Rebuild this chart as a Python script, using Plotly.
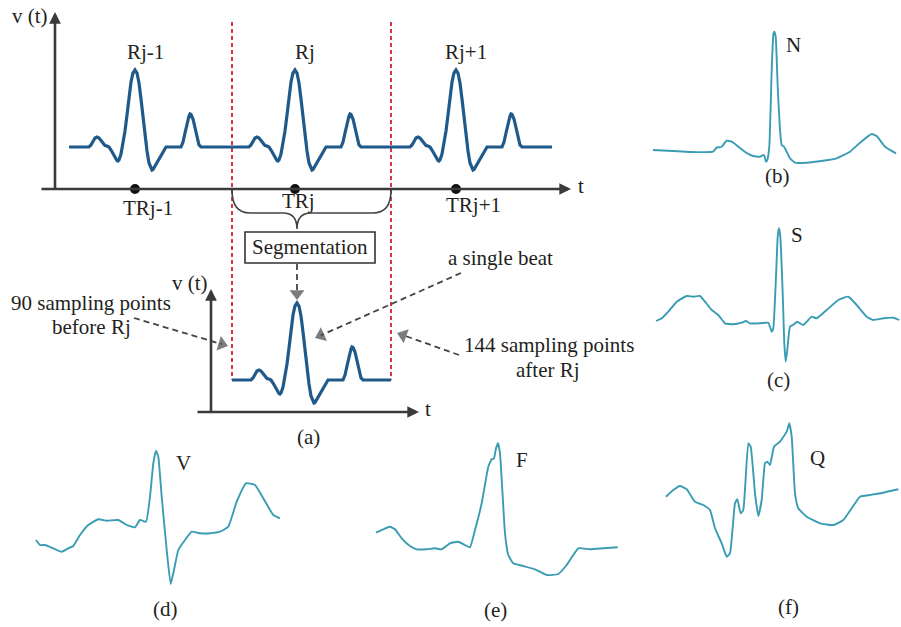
import math
import plotly.graph_objects as go

# ---------------------------------------------------------------
# Schematic heartbeat template: offsets from the R peak
# (dx along time, dy above the isoelectric baseline)
# ---------------------------------------------------------------
BEAT_DX = [-46, -44, -42, -40, -38, -36, -34, -32, -30, -28, -26, -24, -22, -20, -18, -17,
           -16, -14, -12, -10, -8, -6, -4, -2, 0, 2, 4, 6, 8, 10, 12, 14, 16, 17, 18, 20,
           24, 28, 31, 46, 48, 50, 52, 54, 55, 56, 58, 60, 62, 64, 66]
BEAT_DY = [0, 2, 6, 9, 10, 9, 6.5, 3.5, 1.5, 1, 0, -3, -7, -11, -13.5, -14,
           -13, -7, 3, 16, 32, 50, 65, 74, 77, 74, 64, 48, 30, 12, -4, -16, -22, -23, -22.5, -19,
           -12, -5, 0, 0, 5, 14, 24, 31, 33, 32.5, 28, 18, 8, 2, 0]

R_TIMES = [135, 295, 456]
R_LABELS = ["Rj-1", "Rj", "Rj+1"]
TR_LABELS = ["TRj-1", "TRj", "TRj+1"]
STRIP_START, STRIP_END = 69, 552
BASE_TOP = 147
SEG_R = 297
BASE_SEG = 380
SEG_LEFT, SEG_RIGHT = 232, 391

# ---------------------------------------------------------------
# Recorded beat classes
# ---------------------------------------------------------------
N_X = [653, 673, 690, 713, 716.7, 721.7, 726.7, 731.7, 740, 746.7, 753, 760, 764, 766,
       767.3, 769.3, 771.7, 773.3, 774.3, 775.7, 777.7, 780, 781.7, 784, 786.7, 790, 795,
       806.7, 823, 836.7, 850, 860, 871.7, 876.7, 885, 896]
N_Y = [150, 151, 152, 151.7, 147.7, 146.7, 140.7, 141.7, 148, 153, 156, 156.7, 155, 161.7,
       160, 146.7, 70, 35, 31.7, 36.7, 86.7, 130, 145, 146.7, 151.7, 158.3, 162.7,
       162.7, 160.7, 158.3, 151.7, 142.7, 134, 136, 146.7, 153.3]

S_X = [656, 661.7, 668.3, 676.7, 686.7, 693.3, 700, 705, 711.7, 718.3, 725, 733.3, 741.7,
       746, 750, 760, 768.3, 771.7, 773.3, 776, 777.7, 779, 780.3, 782.7, 784.3, 785.7,
       787.3, 790, 794, 797.3, 803.3, 811.7, 816.7, 826.7, 838.3, 848.3, 856.7, 866.7,
       873.3, 883.3, 893.3, 899.3]
S_Y = [321, 318.3, 311.7, 301.7, 296, 296.7, 296, 301.7, 310, 315, 323.3, 324.3, 322.7,
       321, 323.3, 323.3, 322.7, 331.7, 328.3, 276.7, 236.7, 228.3, 236.7, 293.3, 343.3,
       361.7, 350, 326.7, 324.3, 321.7, 325, 316.7, 318.3, 310, 300, 296.7, 305, 316.7,
       320, 318.3, 317.7, 320]

V_X = [36, 40, 45, 53.3, 61.7, 68.3, 73.3, 80, 88.3, 98.3, 106.7, 118.3, 126.7, 135, 140,
       146, 150, 153.3, 156, 158.3, 161.7, 166.7, 170.7, 174, 178.3, 185, 191.7, 200, 210,
       220, 228.3, 236.7, 246, 255, 263.3, 273.3, 280]
V_Y = [540, 545, 545, 548.3, 551.7, 548.3, 546, 535, 525, 519.3, 520.7, 520, 525, 527.3,
       520, 521.7, 496.7, 463.3, 450.7, 456.7, 496.7, 550, 584, 570, 550, 540, 531.7,
       533.3, 533.3, 531.7, 526.7, 501.7, 483.3, 485, 498.3, 515, 518.3]

F_X = [376, 383.3, 390, 395, 401.7, 410, 416.7, 426.7, 435, 441.7, 450, 458.3, 465, 470,
       475, 481.7, 488.3, 491.7, 494, 496, 498, 500, 502.7, 505, 508.3, 513.3, 523.3, 535,
       546.7, 558.3, 566.7, 578.3, 590, 603.3, 617.7]
F_Y = [532.7, 529.3, 526.7, 529.3, 538.3, 546, 549.3, 549.3, 548.3, 549.3, 543.3, 541.7,
       545, 547.3, 530, 503.3, 466.7, 459.3, 458.3, 448.3, 443.3, 453.3, 496.7, 533.3,
       555, 563.3, 566, 569.3, 575, 574, 565, 548.3, 549.3, 548.3, 547.3]

Q_X = [666, 673.3, 680, 686.7, 695, 703.3, 710, 715, 721.7, 726.7, 730, 735, 737.3, 740.7,
       743.3, 748.3, 750.7, 755, 758.3, 761.7, 765, 767.3, 770, 774, 780, 786.7, 789.3,
       791.7, 795, 798.3, 806.7, 820, 833.3, 843.3, 851.7, 860, 870, 883.3, 898.3]
Q_Y = [496.7, 490, 486, 489.3, 501.7, 505, 510, 528.3, 543.3, 556.7, 553.3, 503.3, 499.3,
       513.3, 510, 443.3, 446.7, 493.3, 516, 500, 463.3, 461.7, 465, 446.7, 441.7, 431.7,
       423.3, 436.7, 493.3, 508.3, 516.7, 523.3, 525, 520, 508.3, 496.7, 495, 492.7, 489.3]

CLASS_TRACES = [(N_X, N_Y), (S_X, S_Y), (V_X, V_Y), (F_X, F_Y), (Q_X, Q_Y)]

SERIF = "Liberation Serif"
TXT = "#231f20"
AXIS = "#3a3a3a"
BEAT_BLUE = "#1f5a8a"
TEAL = "#3a9cb3"
RED = "#d8344c"
GREY = "#444444"

fig = go.Figure()

# ---- continuous strip with three beats ----
sx, sy = [STRIP_START], [BASE_TOP]
for r in R_TIMES:
    sx += [r + d for d in BEAT_DX]
    sy += [BASE_TOP - d for d in BEAT_DY]
sx.append(STRIP_END)
sy.append(BASE_TOP)
fig.add_trace(go.Scatter(x=sx, y=sy, mode="lines",
                         line=dict(color=BEAT_BLUE, width=3.2),
                         hoverinfo="skip"))

# ---- segmented single beat ----
bx = [SEG_LEFT] + [SEG_R + d for d in BEAT_DX] + [SEG_RIGHT]
by = [BASE_SEG] + [BASE_SEG - d for d in BEAT_DY] + [BASE_SEG]
fig.add_trace(go.Scatter(x=bx, y=by, mode="lines",
                         line=dict(color=BEAT_BLUE, width=3.2),
                         hoverinfo="skip"))

# ---- R-peak time markers on the time axis ----
fig.add_trace(go.Scatter(x=R_TIMES, y=[189] * len(R_TIMES), mode="markers",
                         marker=dict(color="#111111", size=10), hoverinfo="skip"))

# ---- beat-class recordings ----
for cx, cy in CLASS_TRACES:
    fig.add_trace(go.Scatter(x=cx, y=cy, mode="lines",
                             line=dict(color=TEAL, width=1.9, shape="spline", smoothing=0.4),
                             hoverinfo="skip"))

shapes = []
annotations = []

# red dashed segmentation window
for xv in (SEG_LEFT, SEG_RIGHT):
    shapes.append(dict(type="line", x0=xv, x1=xv, y0=22, y1=BASE_SEG,
                       line=dict(color=RED, width=2, dash="4px,3px"), layer="below"))

# curly brace under the time axis
shapes.append(dict(type="path",
                   path=("M 232,190 Q 232,213 250,213 L 283,213 Q 297,213 297,229 "
                         "Q 297,213 311,213 L 373,213 Q 391,213 391,190"),
                   line=dict(color=GREY, width=1.6)))

# Segmentation box
shapes.append(dict(type="rect", x0=245, x1=375, y0=232, y1=263,
                   line=dict(color="#333333", width=1.6), fillcolor="white"))


def solid_arrow(x0, y0, x1, y1, width=2.6, size=0.9):
    annotations.append(dict(x=x1, y=y1, ax=x0, ay=y0, xref="x", yref="y",
                            axref="x", ayref="y", text="", showarrow=True,
                            arrowhead=2, arrowsize=size, arrowwidth=width,
                            arrowcolor=AXIS, standoff=0))


def dashed_arrow(x0, y0, x1, y1, head=13):
    # dashed shaft ending under a triangular head whose tip sits at (x1, y1)
    length = math.hypot(x1 - x0, y1 - y0)
    ux, uy = (x1 - x0) / length, (y1 - y0) / length
    r = head / 2.0
    cx, cy = x1 - ux * r, y1 - uy * r
    shapes.append(dict(type="line", x0=x0, y0=y0, x1=cx, y1=cy,
                       line=dict(color=GREY, width=1.8, dash="6px,4px")))
    fig.add_trace(go.Scatter(x=[x0, cx], y=[y0, cy], mode="markers",
                             marker=dict(symbol="triangle-up", size=[0, head], color=GREY,
                                         angleref="previous", line=dict(width=0)),
                             hoverinfo="skip"))


# top axes
solid_arrow(55, 190, 55, 12)
solid_arrow(40, 189, 571, 189)
# lower axes
solid_arrow(211, 413, 211, 289)
solid_arrow(196, 412, 419, 412)

# pointer arrows
dashed_arrow(297, 264, 297, 300)
dashed_arrow(134, 318, 228, 346)
dashed_arrow(461, 273, 315, 338)
dashed_arrow(459, 355, 397, 333)


def label(x, y, text, size=21, anchor="center"):
    annotations.append(dict(x=x, y=y, xref="x", yref="y", text=text, showarrow=False,
                            xanchor=anchor, yanchor="middle",
                            font=dict(family=SERIF, size=size, color=TXT)))


label(30, 16, "v (t)")
label(581, 186, "t")
for r, lab in zip(R_TIMES, R_LABELS):
    label(r + 10, 52, lab)
TR_POS = [(148, 208), (298, 201), (473, 205)]
for (px, py), lab in zip(TR_POS, TR_LABELS):
    label(px, py, lab)
label(310, 247, "Segmentation")
label(190, 283, "v (t)")
label(428, 409, "t")
label(500, 258, "a single beat")
label(91, 303, "90 sampling points")
label(91, 327, "before Rj")
label(462, 345, "144 sampling points", anchor="left")
label(548, 370, "after Rj")
label(308, 437, "(a)")

label(793, 45, "N")
label(777, 176, "(b)")
label(797, 235, "S")
label(778, 380, "(c)")
label(183, 463, "V")
label(165, 609, "(d)")
label(522, 460, "F")
label(495, 610, "(e)")
label(817, 458, "Q")
label(788, 607, "(f)")

fig.update_layout(
    width=901, height=627, autosize=False,
    margin=dict(l=0, r=0, t=0, b=0),
    paper_bgcolor="white", plot_bgcolor="white",
    showlegend=False,
    xaxis=dict(range=[0, 901], visible=False, fixedrange=True),
    yaxis=dict(range=[627, 0], visible=False, fixedrange=True),
    shapes=shapes, annotations=annotations,
)

fig.write_html("out.html")
